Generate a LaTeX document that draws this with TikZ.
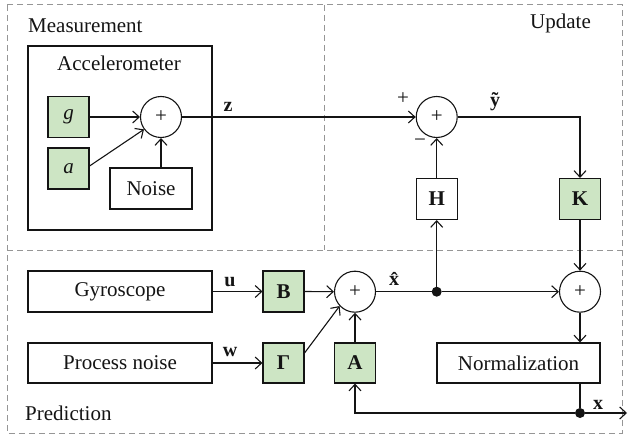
\documentclass[tikz,border=0pt]{standalone}
\usepackage{fontspec}
\setmainfont{Liberation Serif}
\usetikzlibrary{arrows.meta,calc}
\definecolor{boxgreen}{RGB}{205,229,196}
\definecolor{dashgray}{RGB}{150,150,150}
\definecolor{linecol}{RGB}{20,20,20}
\begin{document}
\begin{tikzpicture}[x=1pt,y=-1pt,
  every node/.style={font=\fontsize{21}{25}\selectfont, inner sep=0pt, text=linecol},
  region/.style={draw=dashgray, line width=1pt, dash pattern=on 6pt off 4pt},
  blk/.style={draw=linecol, line width=1.1pt, minimum width=41pt, minimum height=41pt},
  gblk/.style={blk, fill=boxgreen},
  wblk/.style={blk, fill=white},
  sumnode/.style={circle, draw=linecol, line width=1.1pt, minimum size=41pt},
  junction/.style={circle, fill=linecol, minimum size=10pt},
  conn/.style={draw=linecol, line width=1.1pt},
  arr/.style={conn, -{Straight Barb[length=6.5pt,width=12pt]}},
  lbl/.style={font=\fontsize{20}{24}\selectfont\bfseries}
]
\useasboundingbox (0,0) rectangle (628,438);
% regions
\draw[region] (7,5) rectangle (622,433);
\draw[region] (7,250) -- (622,250);
\draw[region] (324,5) -- (324,250);
\node[anchor=base west] (tmeas) at (28,33) {Measurement};
\node[anchor=base west] (tupd) at (530,29) {Update};
\node[anchor=base west] (tpred) at (25,420) {Prediction};
% accelerometer
\node[draw=linecol, line width=1.1pt, minimum width=184pt, minimum height=184pt] (acc) at (120,138) {};
\node[anchor=base west] (tacc) at (57,71) {Accelerometer};
\node[gblk] (g) at (68.5,117) {\textit{g}};
\node[gblk] (a) at (68.5,168.5) {\textit{a}};
\node[sumnode] (s1) at (161,117) {+};
\node[wblk, minimum width=82pt] (noise) at (151,188.5) {Noise};
% update
\node[sumnode] (s2) at (436.7,117) {+};
\node[wblk] (H) at (436.7,199) {\textbf{H}};
\node[gblk] (K) at (580,199) {\textbf{K}};
% prediction
\node[wblk, minimum width=184pt] (gyro) at (120,291.5) {Gyroscope};
\node[wblk, minimum width=184pt, minimum height=40pt] (pn) at (120,363) {Process noise};
\node[gblk] (B) at (283.5,291.5) {\textbf{B}};
\node[gblk, minimum height=40pt] (G) at (283.5,363) {\textbf{Γ}};
\node[sumnode] (s3) at (355,291.7) {+};
\node[junction] (d1) at (436.7,291.7) {};
\node[sumnode] (s4) at (580,291.7) {+};
\node[wblk, minimum width=163pt, minimum height=40pt] (norm) at (518.5,363) {Normalization};
\node[gblk, minimum height=40pt] (A) at (355,363) {\textbf{A}};
\node[junction] (d2) at (580,413) {};
\coordinate (xend) at (627,413);
% connectors
\draw[arr] (g.east) -- (s1.west);
\draw[arr] ($(a.east)+(0,-2.5)$) -- (s1.216);
\draw[arr] (noise.north -| s1) -- (s1.south);
\draw[arr] (s1.east) -- (s2.west);
\draw[arr] (H.north) -- (s2.south);
\draw[arr] (s2.east) -| (K.north);
\draw[arr] (K.south) -- (s4.north);
\draw[arr] (gyro.east) -- (B.west);
\draw[arr] (pn.east) -- (G.west);
\draw[arr] (B.east) -- (s3.west);
\draw[arr] ($(G.east)+(0,-10)$) -- (s3.223);
\draw[arr] (A.north) -- (s3.south);
\draw[conn] (s3.east) -- (d1);
\draw[arr] (d1) -- (s4.west);
\draw[arr] (d1) -- (H.south);
\draw[arr] (s4.south) -- (norm.north -| s4);
\draw[conn] (norm.south -| d2) -- (d2);
\draw[arr] (d2) -- (xend);
\draw[arr] (d2) -| (A.south);
% labels
\node[lbl] (lz) at (228,107) {z};
\node[lbl] (lu) at (230,282) {u};
\node[lbl] (lw) at (230,352) {w};
\node (lplus) at (403,99) {+};
\node (lminus) at (420,143) {−};
\node[lbl] (ly) at (495,102) {\~{y}};
\node[lbl] (lxh) at (394,279) {\^{x}};
\node[lbl] (lx) at (598,405) {x};
\end{tikzpicture}
\end{document}
